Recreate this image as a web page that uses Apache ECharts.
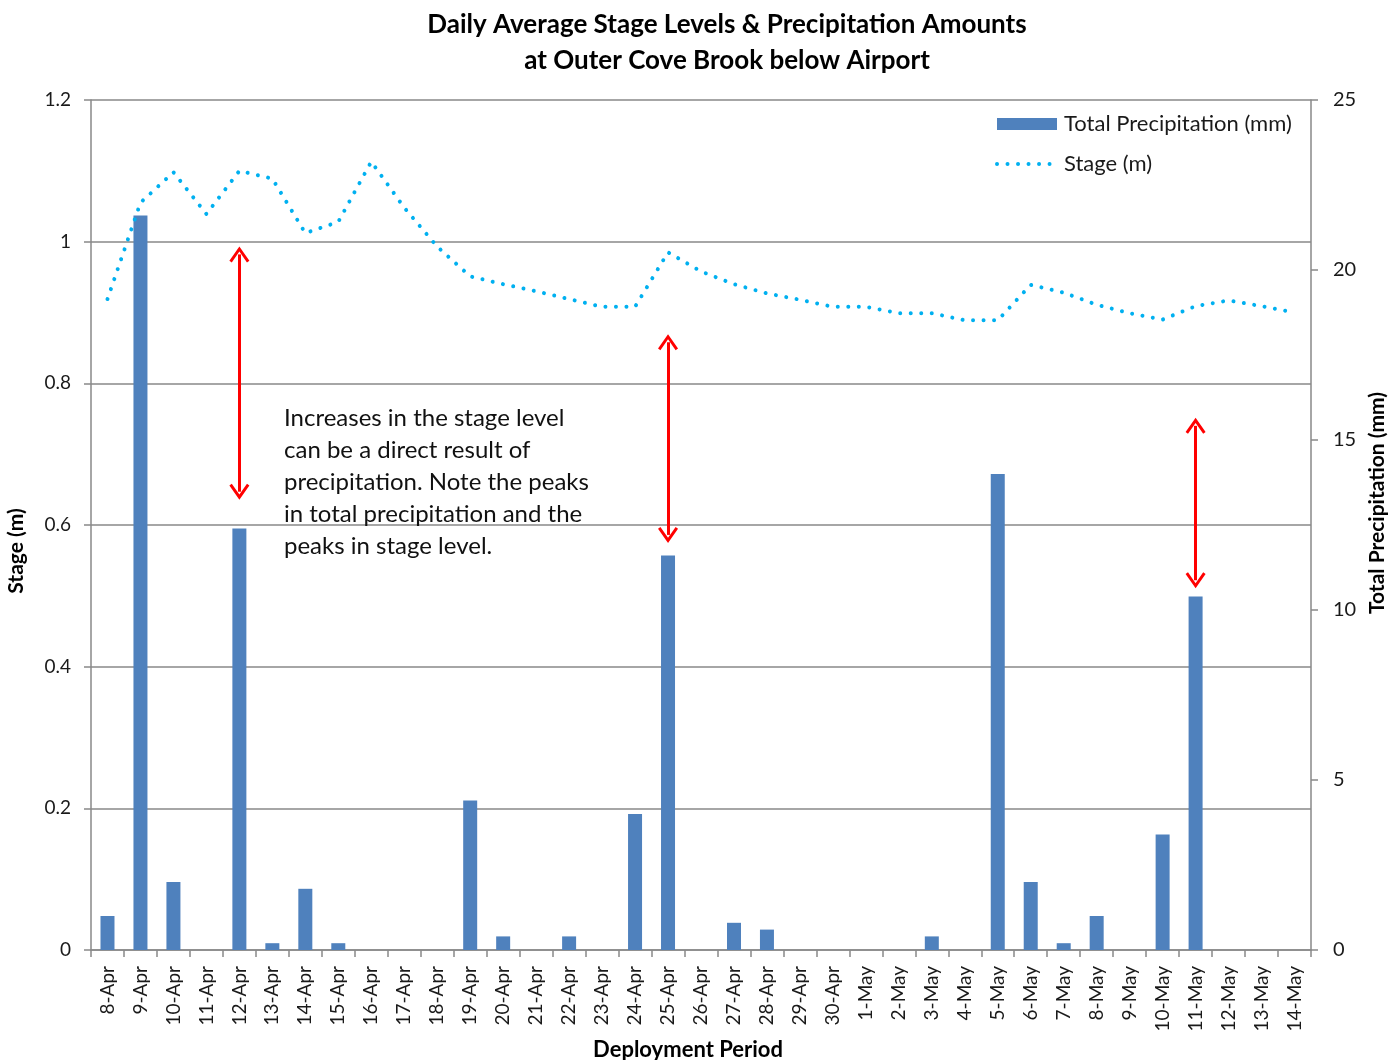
<!DOCTYPE html>
<html>
<head>
<meta charset="utf-8">
<title>Daily Average Stage Levels &amp; Precipitation Amounts</title>
<script src="https://cdn.jsdelivr.net/npm/echarts@6/dist/echarts.min.js"></script>
<style>
  html, body { margin: 0; padding: 0; background: #fff; overflow: hidden; }
  #chart { width: 1398px; height: 1060px; }
</style>
</head>
<body>
<div id="chart"></div>
<script>
// Deployment days
const categories = [
  '8-Apr','9-Apr','10-Apr','11-Apr','12-Apr','13-Apr','14-Apr','15-Apr','16-Apr','17-Apr',
  '18-Apr','19-Apr','20-Apr','21-Apr','22-Apr','23-Apr','24-Apr','25-Apr','26-Apr','27-Apr',
  '28-Apr','29-Apr','30-Apr','1-May','2-May','3-May','4-May','5-May','6-May','7-May',
  '8-May','9-May','10-May','11-May','12-May','13-May','14-May'
];

// Total daily precipitation (mm), right axis
const precipitation = [
  1.0, 21.6, 2.0, 0, 12.4, 0.2, 1.8, 0.2, 0, 0,
  0, 4.4, 0.4, 0, 0.4, 0, 4.0, 11.6, 0, 0.8,
  0.6, 0, 0, 0, 0, 0.4, 0, 14.0, 2.0, 0.2,
  1.0, 0, 3.4, 10.4, 0, 0, 0
];

// Daily average stage (m), left axis
const stage = [
  0.919, 1.055, 1.098, 1.039, 1.100, 1.089, 1.012, 1.028, 1.113, 1.048,
  0.993, 0.951, 0.940, 0.930, 0.919, 0.908, 0.908, 0.985, 0.958, 0.940,
  0.927, 0.918, 0.908, 0.908, 0.899, 0.899, 0.889, 0.889, 0.939, 0.928,
  0.911, 0.899, 0.890, 0.909, 0.917, 0.909, 0.900
];

// Double-headed arrows linking rainfall peaks to stage rises: [day, upper stage, lower stage]
const peakArrows = [
  ['12-Apr', 0.982, 0.647],
  ['25-Apr', 0.858, 0.586],
  ['11-May', 0.740, 0.522]
];

const noteLines = [
  'Increases in the stage level',
  'can be a direct result of',
  'precipitation. Note the peaks',
  'in total precipitation and the',
  'peaks in stage level.'
];

const FONT = 'Lato, "Open Sans", sans-serif';
const GRID_GRAY = '#898989';
const TEXT = '#1a1a1a';
const STAGE_BLUE = '#00B0F0';
// open arrow head (a "V" of constant thickness)
const chevron = 'path://M0,14 L10,0 L20,14 L17.6,15.7 L10,5 L2.4,15.7 Z';
const stageDash = { color: STAGE_BLUE, width: 4, type: [0.01, 10.5], cap: 'round', join: 'round' };

const chart = echarts.init(document.getElementById('chart'), null, { renderer: 'canvas' });

chart.setOption({
  backgroundColor: '#ffffff',
  animation: false,
  textStyle: { fontFamily: FONT },
  title: {
    text: 'Daily Average Stage Levels & Precipitation Amounts\nat Outer Cove Brook below Airport',
    left: 722,
    textAlign: 'center',
    top: 2,
    textStyle: { fontFamily: FONT, fontWeight: 'bold', fontSize: 26, lineHeight: 36, color: '#000' }
  },
  legend: {
    orient: 'vertical',
    left: 995,
    top: 113,
    padding: 0,
    itemWidth: 60,
    itemHeight: 12,
    itemGap: 18,
    textStyle: { fontFamily: FONT, fontSize: 22, color: TEXT, padding: [0, 0, 0, 2] },
    data: [
      { name: 'Total Precipitation (mm)', icon: 'rect' },
      { name: 'Stage (m)', itemStyle: { opacity: 0 }, lineStyle: stageDash }
    ]
  },
  grid: { left: 91, top: 100, width: 1220, height: 850, outerBoundsMode: 'none', containLabel: false },
  xAxis: {
    type: 'category',
    data: categories,
    boundaryGap: true,
    name: 'Deployment Period',
    nameLocation: 'middle',
    nameGap: 89,
    nameTextStyle: { fontFamily: FONT, fontWeight: 'bold', fontSize: 22, color: '#000', padding: [0, 26, 0, 0] },
    axisLine: { lineStyle: { color: GRID_GRAY, width: 1.5 } },
    axisTick: { show: true, length: 7, lineStyle: { color: GRID_GRAY, width: 1.5 } },
    axisLabel: { rotate: 90, interval: 0, margin: 16, fontSize: 19, color: TEXT, fontFamily: FONT }
  },
  yAxis: [
    {
      type: 'value',
      min: 0, max: 1.2, interval: 0.2,
      name: 'Stage (m)',
      nameLocation: 'middle',
      nameGap: 64,
      nameTextStyle: { fontFamily: FONT, fontWeight: 'bold', fontSize: 21, color: '#000', padding: [0, 52, 0, 0] },
      axisLine: { show: true, lineStyle: { color: GRID_GRAY, width: 1.5 } },
      axisTick: { show: true, length: 7, lineStyle: { color: GRID_GRAY, width: 1.5 } },
      axisLabel: { margin: 20, fontSize: 19, color: TEXT, fontFamily: FONT,
        formatter: v => String(Math.round(v * 10) / 10) },
      splitLine: { show: true, lineStyle: { color: GRID_GRAY, width: 1.5 } }
    },
    {
      type: 'value',
      min: 0, max: 25, interval: 5,
      position: 'right',
      name: 'Total Precipitation (mm)',
      nameLocation: 'middle',
      nameGap: 53,
      nameRotate: 90,
      nameTextStyle: { fontFamily: FONT, fontWeight: 'bold', fontSize: 21, color: '#000', padding: [0, 0, 0, 44] },
      axisLine: { show: true, lineStyle: { color: GRID_GRAY, width: 1.5 } },
      axisTick: { show: true, length: 7, lineStyle: { color: GRID_GRAY, width: 1.5 } },
      axisLabel: { margin: 22, fontSize: 20, color: TEXT, fontFamily: FONT },
      splitLine: { show: false }
    }
  ],
  series: [
    {
      name: 'Total Precipitation (mm)',
      type: 'bar',
      yAxisIndex: 1,
      data: precipitation,
      barWidth: 14,
      itemStyle: { color: '#4F81BD' },
      z: 2
    },
    {
      name: 'Stage (m)',
      type: 'line',
      yAxisIndex: 0,
      data: stage,
      symbol: 'none',
      smooth: false,
      itemStyle: { color: STAGE_BLUE },
      lineStyle: stageDash,
      z: 3,
      markLine: {
        silent: true,
        symbol: [chevron, chevron],
        symbolSize: [20, 16],
        label: { show: false },
        itemStyle: { color: '#FF0000' },
        lineStyle: { color: '#FF0000', width: 3, type: 'solid' },
        emphasis: { disabled: true },
        data: peakArrows.map(a => [
          { coord: [a[0], a[1]] },
          { coord: [a[0], a[2]] }
        ])
      }
    }
  ],
  graphic: [
    {
      type: 'text',
      left: 284,
      top: 402,
      z: 10,
      style: {
        text: noteLines.join('\n'),
        font: '24px ' + FONT,
        lineHeight: 32,
        fill: '#111'
      }
    }
  ]
});
</script>
</body>
</html>
